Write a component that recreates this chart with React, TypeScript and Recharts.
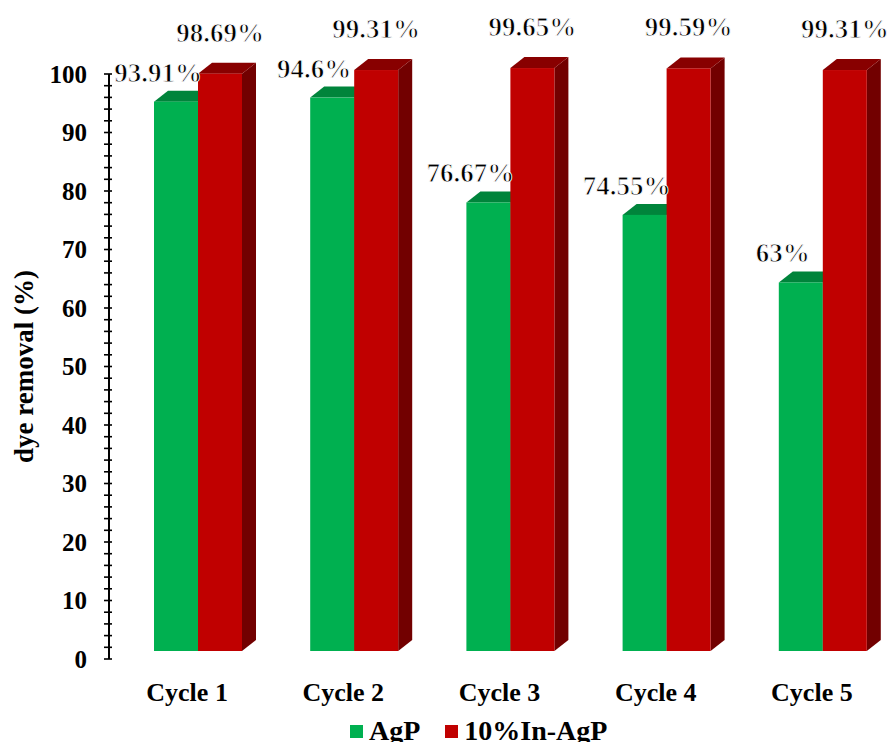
import React from 'react';
import { BarChart, Bar, XAxis, YAxis, LabelList, Label } from 'recharts';

// Dye removal per reuse cycle
const categories = ['Cycle 1', 'Cycle 2', 'Cycle 3', 'Cycle 4', 'Cycle 5'];
const agpValues = [93.91, 94.6, 76.67, 74.55, 63];
const inAgpValues = [98.69, 99.31, 99.65, 99.59, 99.31];

const seriesNames = ['AgP', '10%In-AgP'];

// Major (labelled) ticks and the minor ticks between them
const majorTicks = [0, 10, 20, 30, 40, 50, 60, 70, 80, 90, 100];
const allTicks = [
  0, 2, 4, 6, 8, 10, 12, 14, 16, 18, 20, 22, 24, 26, 28, 30, 32, 34, 36, 38, 40,
  42, 44, 46, 48, 50, 52, 54, 56, 58, 60, 62, 64, 66, 68, 70, 72, 74, 76, 78, 80,
  82, 84, 86, 88, 90, 92, 94, 96, 98, 100,
];

const data = categories.map((c, i) => ({
  cycle: c,
  agp: agpValues[i],
  inAgp: inAgpValues[i],
}));

const FONT = '"Liberation Serif", "Times New Roman", serif';

const GREEN = { front: '#00B050', top: '#00843B', side: '#006F31' };
const RED = { front: '#C00000', top: '#880000', side: '#720000' };

// 3D extrusion and the front-face offset against the axis frame
const DX = 14;
const DY = 11;
const SHIFT_X = 11;
const SHIFT_Y = -8;

const makeBox = (c: { front: string; top: string; side: string }) => (props: any) => {
  const { x, y, width, height } = props;
  if (x == null || y == null) return null;
  const x0 = x + SHIFT_X;
  const y0 = y + SHIFT_Y;
  const w = width;
  const h = height;
  return (
    <g>
      <polygon
        points={`${x0 + w},${y0} ${x0 + w + DX},${y0 - DY} ${x0 + w + DX},${y0 + h - DY} ${x0 + w},${y0 + h}`}
        fill={c.side}
      />
      <polygon
        points={`${x0},${y0} ${x0 + DX},${y0 - DY} ${x0 + w + DX},${y0 - DY} ${x0 + w},${y0}`}
        fill={c.top}
      />
      <rect x={x0} y={y0} width={w} height={h} fill={c.front} />
    </g>
  );
};

const GreenBox = makeBox(GREEN);
const RedBox = makeBox(RED);

// Value labels: serif digits, lightened with a thin white outline
const makeValueLabel = (dx: number, dy: number) => (props: any) => {
  const { x, y, width, value } = props;
  if (x == null || y == null) return null;
  return (
    <g>
      <text
        x={x + width / 2 + SHIFT_X + dx}
        y={y + SHIFT_Y + dy}
        textAnchor="middle"
        dominantBaseline="central"
        stroke="#fff"
        strokeWidth={0.9}
        style={{ fontFamily: FONT, fontSize: 27, fontWeight: 'bold', fill: '#000' }}
      >
        {`${value}%`}
      </text>
    </g>
  );
};

const GreenLabel = makeValueLabel(-18, -29);
const RedLabel = makeValueLabel(0, -41);

const YTick = (props: any) => {
  const { x, y, payload } = props;
  const isMajor = majorTicks.includes(payload.value);
  return (
    <g>
      <line x1={x - 5} x2={x + 3} y1={y} y2={y} stroke="#000" strokeWidth={1.6} />
      {isMajor && (
        <text
          x={x - 22}
          y={y}
          textAnchor="end"
          dominantBaseline="central"
          style={{ fontFamily: FONT, fontWeight: 'bold', fontSize: 25, fill: '#000' }}
        >
          {payload.value}
        </text>
      )}
    </g>
  );
};

const XTick = (props: any) => {
  const { x, y, payload } = props;
  return (
    <text
      x={x}
      y={y + 42}
      textAnchor="middle"
      style={{ fontFamily: FONT, fontWeight: 'bold', fontSize: 26, fill: '#000' }}
    >
      {payload.value}
    </text>
  );
};

const legendColors = [GREEN.front, RED.front];

export default function App() {
  return (
    <div
      style={{
        position: 'absolute',
        left: 0,
        top: 0,
        width: 890,
        height: 742,
        background: '#fff',
        overflow: 'hidden',
      }}
    >
      <BarChart
        width={890}
        height={742}
        data={data}
        margin={{ top: 74, right: 0, left: 0, bottom: 23 }}
        barSize={44}
        barGap={0}
      >
        <XAxis
          dataKey="cycle"
          axisLine={false}
          tickLine={false}
          tickSize={0}
          tickMargin={0}
          height={60}
          tick={<XTick />}
          interval={0}
        />
        <YAxis
          width={109}
          domain={[0, 100]}
          ticks={allTicks}
          interval={0}
          tickLine={false}
          tickSize={0}
          tickMargin={0}
          axisLine={{ stroke: '#000', strokeWidth: 2 }}
          tick={<YTick />}
        >
          <Label
            content={(p: any) => {
              const vb = p.viewBox || { x: 0, y: 74, width: 109, height: 585 };
              const cx = 24;
              const cy = vb.y + vb.height / 2;
              return (
                <text
                  x={cx}
                  y={cy}
                  transform={`rotate(-90, ${cx}, ${cy})`}
                  textAnchor="middle"
                  dominantBaseline="central"
                  style={{ fontFamily: FONT, fontWeight: 'bold', fontSize: 27, fill: '#000' }}
                >
                  dye removal (%)
                </text>
              );
            }}
          />
        </YAxis>
        <Bar
          dataKey="agp"
          name={seriesNames[0]}
          fill={GREEN.front}
          shape={GreenBox}
          isAnimationActive={false}
        >
          <LabelList dataKey="agp" content={GreenLabel} />
        </Bar>
        <Bar
          dataKey="inAgp"
          name={seriesNames[1]}
          fill={RED.front}
          shape={RedBox}
          isAnimationActive={false}
        >
          <LabelList dataKey="inAgp" content={RedLabel} />
        </Bar>
      </BarChart>
      <div
        style={{
          position: 'absolute',
          top: 717,
          left: 350,
          display: 'flex',
          alignItems: 'center',
          fontFamily: FONT,
          fontWeight: 'bold',
          fontSize: 28,
          lineHeight: '28px',
          color: '#000',
          whiteSpace: 'nowrap',
        }}
      >
        {seriesNames.map((n, i) => (
          <div
            key={n}
            style={{ display: 'flex', alignItems: 'center', marginLeft: i === 0 ? 0 : 25 }}
          >
            <span
              style={{
                display: 'inline-block',
                width: 13,
                height: 13,
                background: legendColors[i],
                marginRight: 6,
              }}
            />
            <span>{n}</span>
          </div>
        ))}
      </div>
    </div>
  );
}
